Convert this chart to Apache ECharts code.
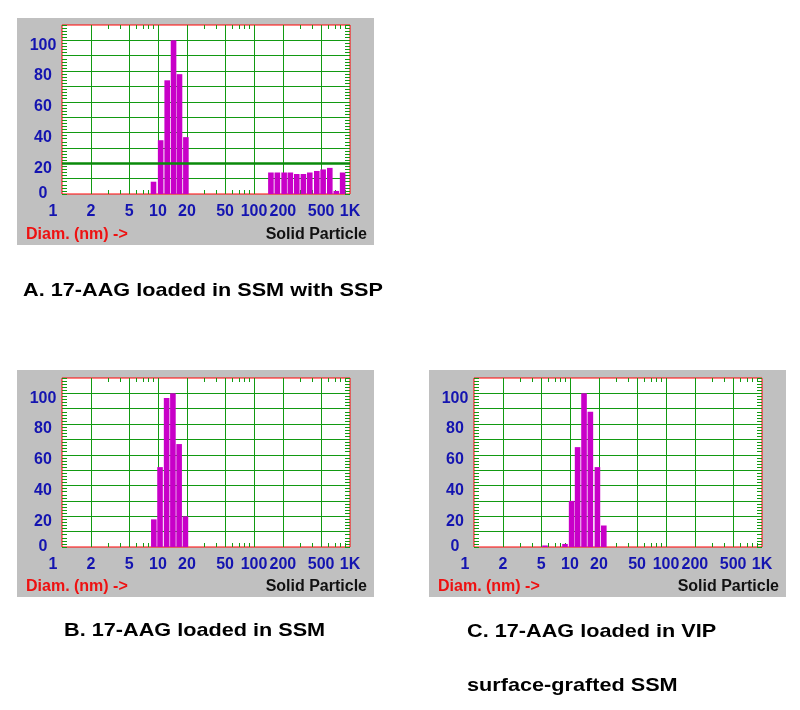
<!DOCTYPE html>
<html><head><meta charset="utf-8">
<script src="https://cdn.jsdelivr.net/npm/echarts@6/dist/echarts.min.js"></script>
<style>html,body{margin:0;padding:0;background:#fff}#c{width:800px;height:710px}</style>
</head><body><div id="c"></div>
<script>
// ---- data ----
const xLabelValues = [1, 2, 5, 10, 20, 50, 100, 200, 500, 1000];
const xGridValues = [2, 5, 10, 20, 50, 100, 200, 500];
const xMinorTicks = [3, 4, 6, 7, 8, 9, 30, 40, 60, 70, 80, 90, 300, 400, 600, 700, 800, 900];
const yLabelValues = [0, 20, 40, 60, 80, 100];

const diamA = [8.98, 10.66, 12.47, 14.52, 16.75, 19.52, 150, 175, 206, 239, 279, 327, 381, 451, 525, 616, 720, 838];
const intensityA = [8, 35, 74, 100, 78, 37, 14, 14, 14, 14, 13, 13, 14, 15, 16, 17, 2, 14];
const diamB = [9.05, 10.5, 12.3, 14.3, 16.6, 19.3];
const intensityB = [18, 52, 97, 100, 67, 20];
const diamC = [5.49, 8.87, 10.4, 12.0, 14.0, 16.3, 19.3, 22.5];
const intensityC = [1, 2, 30, 65, 100, 88, 52, 14];

const captionA = 'A. 17-AAG loaded in SSM with SSP';
const captionB = 'B. 17-AAG loaded in SSM';
const captionC1 = 'C. 17-AAG loaded in VIP';
const captionC2 = 'surface-grafted SSM';
const xAxisName = 'Diam. (nm) ->';
const modeName = 'Solid Particle';

// ---- styling ----
const FONT = "'Liberation Sans', Arial, sans-serif";
const GREEN = '#129a12';
const BLUE = '#1414b0';
const RED = '#ff0000';
const BAR = '#c800c8';
const GRAY = '#c0c0c0';

const panels = [
  { left: 62, top: 25, grayX: 17, grayY: 18, diam: diamA, val: intensityA, thick: true },
  { left: 62, top: 378, grayX: 17, grayY: 370, diam: diamB, val: intensityB, thick: false },
  { left: 474, top: 378, grayX: 429, grayY: 370, diam: diamC, val: intensityC, thick: false }
];

const grids = [], xAxes = [], yAxes = [], series = [], graphics = [];

panels.forEach((p, gi) => {
  grids.push({ left: p.left, top: p.top, width: 288, height: 169, show: true,
    borderColor: RED, borderWidth: 1, backgroundColor: '#ffffff' });
  const xb = { type: 'log', logBase: 10, min: 1, max: 1000, gridIndex: gi };
  const xi = xAxes.length;
  xAxes.push(Object.assign({}, xb, {
    position: 'bottom',
    axisLine: { show: false, onZero: false },
    axisTick: { show: false, customValues: xGridValues },
    splitLine: { show: true, lineStyle: { color: GREEN, width: 1 } },
    axisLabel: {
      customValues: xLabelValues, color: BLUE, fontSize: 16, fontWeight: 'bold', fontFamily: FONT, margin: 10,
      formatter: v => v === 1 ? '{one|1}' : (v === 1000 ? '1K' : String(v)),
      rich: { one: { padding: [0, 18, 0, 0], color: BLUE, fontSize: 16, fontWeight: 'bold', fontFamily: FONT } }
    }
  }));
  ['top', 'bottom'].forEach(pos => xAxes.push(Object.assign({}, xb, {
    position: pos,
    axisLine: { show: false, onZero: false },
    axisTick: { show: true, inside: true, length: 4, customValues: xMinorTicks, lineStyle: { color: GREEN } },
    axisLabel: { show: false }, splitLine: { show: false }
  })));
  const yb = { type: 'value', min: 0, max: 110, interval: 10, gridIndex: gi };
  const yi = yAxes.length;
  yAxes.push(Object.assign({}, yb, {
    position: 'left',
    axisLine: { show: false, onZero: false },
    axisTick: { show: true, inside: true, length: 5, lineStyle: { color: GREEN } },
    minorTick: { show: true, splitNumber: 5, length: 5, lineStyle: { color: GREEN } },
    splitLine: { show: true, showMinLine: false, showMaxLine: false, lineStyle: { color: GREEN, width: 1 } },
    axisLabel: {
      align: 'center', margin: 19, color: BLUE, fontSize: 16, fontWeight: 'bold', fontFamily: FONT,
      formatter: v => yLabelValues.indexOf(v) < 0 ? '' : (v === 0 ? '{z|0}' : '{d|' + v + '}'),
      rich: {
        z: { color: BLUE, fontSize: 16, fontWeight: 'bold', fontFamily: FONT },
        d: { color: BLUE, fontSize: 16, fontWeight: 'bold', fontFamily: FONT, padding: [10, 0, 0, 0] }
      }
    }
  }));
  yAxes.push(Object.assign({}, yb, {
    position: 'right',
    axisLine: { show: false, onZero: false },
    axisTick: { show: true, inside: true, length: 5, lineStyle: { color: GREEN } },
    minorTick: { show: true, splitNumber: 5, length: 5, lineStyle: { color: GREEN } },
    splitLine: { show: false }, axisLabel: { show: false }
  }));
  const s = {
    type: 'bar', xAxisIndex: xi, yAxisIndex: yi, barWidth: 5.6, silent: true,
    itemStyle: { color: BAR },
    data: p.diam.map((d, i) => [d, p.val[i]])
  };
  if (p.thick) {
    s.markLine = { silent: true, symbol: 'none', label: { show: false },
      lineStyle: { color: '#0a8a0a', width: 2.5, type: 'solid' }, data: [{ yAxis: 20 }] };
  }
  series.push(s);

  graphics.push({ type: 'rect', z: -10, shape: { x: p.grayX, y: p.grayY, width: 357, height: 227 }, style: { fill: GRAY } });
  graphics.push({ type: 'text', z: 10, x: p.grayX + 9, y: p.grayY + 217,
    style: { text: xAxisName, fill: '#ee1111', font: 'bold 16px ' + FONT, textAlign: 'left', textVerticalAlign: 'middle' } });
  graphics.push({ type: 'text', z: 10, x: p.grayX + 350, y: p.grayY + 217,
    style: { text: modeName, fill: '#111111', font: 'bold 16px ' + FONT, textAlign: 'right', textVerticalAlign: 'middle' } });
});

const caps = [
  { t: captionA, x: 23, y: 291 },
  { t: captionB, x: 64, y: 631 },
  { t: captionC1, x: 467, y: 632 },
  { t: captionC2, x: 467, y: 686 }
];
caps.forEach(c => graphics.push({ type: 'text', x: c.x, y: c.y, scaleX: 1.14,
  style: { text: c.t, fill: '#000', font: 'bold 19px ' + FONT, textAlign: 'left', textVerticalAlign: 'middle' } }));

const chart = echarts.init(document.getElementById('c'), null, { renderer: 'canvas' });
chart.setOption({
  animation: false,
  backgroundColor: '#ffffff',
  grid: grids, xAxis: xAxes, yAxis: yAxes, series: series, graphic: graphics
});
</script></body></html>
